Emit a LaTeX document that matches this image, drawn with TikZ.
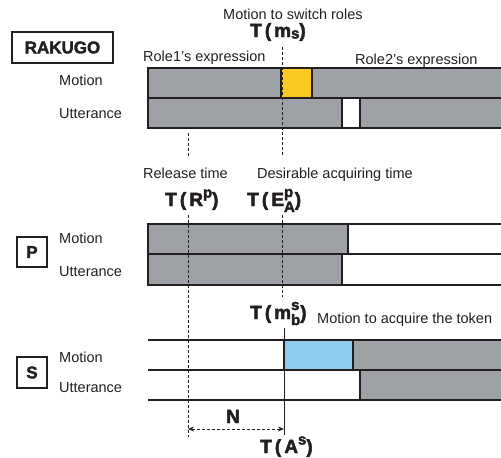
\documentclass[tikz,border=0pt]{standalone}
\usepackage{fontspec}
\setmainfont{Liberation Sans}
\usetikzlibrary{arrows.meta}
\definecolor{bargray}{RGB}{158,162,166}
\definecolor{baryellow}{RGB}{251,200,36}
\definecolor{barblue}{RGB}{143,203,236}
\definecolor{ink}{RGB}{35,31,32}
\newfontfamily\heavyfam[FakeBold=2.5,LetterSpace=16]{Liberation Sans Bold}
\newfontfamily\tagfam[FakeBold=2]{Liberation Sans Bold}
\newcommand{\heavy}{\heavyfam\fontsize{19}{21}\selectfont}
\newcommand{\tsup}[2]{\raisebox{#2}{\fontsize{15}{15}\selectfont #1}}
\newcommand{\tsub}[2]{\raisebox{#2}{\fontsize{15}{15}\selectfont #1}}
\newcommand{\tsupsub}[2]{\rlap{\raisebox{9pt}{\fontsize{15}{15}\selectfont #1}}\raisebox{-6pt}{\fontsize{15}{15}\selectfont #2}}
\begin{document}
\begin{tikzpicture}[x=1pt,y=-1pt,
  lbl/.style={font=\fontsize{14.5}{16}\selectfont, inner sep=0pt, anchor=base west, text=ink},
  tlbl/.style={font=\heavy, inner sep=0pt, anchor=base west, text=ink},
  tagbox/.style={draw=ink, line width=1.4pt, font=\tagfam\fontsize{17}{19}\selectfont, inner sep=0pt, text=ink},
  border/.style={draw=ink, line width=1.8pt},
  guide/.style={draw=ink, line width=0.8pt, dash pattern=on 3pt off 2pt},
  marker/.style={draw=ink, line width=0.8pt},
]
\useasboundingbox (0,0) rectangle (501,458);

% ---------- RAKUGO ----------
\node[tagbox, minimum width=101pt, minimum height=31pt] (rakugo) at (62.5,47.5) {RAKUGO};
\node[lbl] (rmot) at (59,85) {Motion};
\node[lbl] (rutt) at (59,118) {Utterance};
\node[lbl] (switch) at (223,19) {Motion to switch roles};
\node[tlbl] (tms) at (250,37) {T(m\tsub{s}{-1.5pt})};
\node[lbl] (role1) at (143,61) {Role1’s expression};
\node[lbl] (role2) at (355,64) {Role2’s expression};

\fill[bargray] (148,68) rectangle (281,98);
\fill[baryellow] (281,68) rectangle (312,98);
\fill[bargray] (312,68) rectangle (505,98);
\fill[bargray] (148,98) rectangle (342,128);
\fill[bargray] (360,98) rectangle (505,128);
\draw[border] (505,68) -- (148,68) -- (148,128) -- (505,128);
\draw[border] (148,98) -- (505,98);
\draw[border] (281,68) -- (281,98);
\draw[border] (312,68) -- (312,98);
\draw[border] (342,98) -- (342,128);
\draw[border] (360,98) -- (360,128);

% ---------- time labels ----------
\node[lbl] (release) at (143,178) {Release time};
\node[lbl] (desire) at (257,178) {Desirable acquiring time};
\node[tlbl] (trp) at (165,206) {T(\,R\tsup{p}{8.5pt})};
\node[tlbl] (tea) at (247,206) {T(\,E\tsupsub{p}{A})};

% ---------- P ----------
\node[tagbox, minimum width=30pt, minimum height=30pt] (pbox) at (32,252) {P};
\node[lbl] (pmot) at (59,243) {Motion};
\node[lbl] (putt) at (59,276) {Utterance};
\fill[bargray] (148,224) rectangle (348,254);
\fill[bargray] (148,254) rectangle (342,285);
\draw[border] (505,224) -- (148,224) -- (148,285) -- (505,285);
\draw[border] (148,254) -- (505,254);
\draw[border] (348,224) -- (348,254);
\draw[border] (342,254) -- (342,285);

% ---------- S ----------
\node[tagbox, minimum width=30pt, minimum height=31pt] (sbox) at (32,372.5) {S};
\node[lbl] (smot) at (59,362) {Motion};
\node[lbl] (sutt) at (59,392) {Utterance};
\node[tlbl] (tmb) at (250,319) {T(m\tsupsub{s}{b})};
\node[lbl] (acquire) at (317,323) {Motion to acquire the token};
\fill[barblue] (284,340) rectangle (353,370);
\fill[bargray] (353,340) rectangle (505,370);
\fill[bargray] (360,370) rectangle (505,400);
\draw[border] (148,340) -- (505,340);
\draw[border] (148,370) -- (505,370);
\draw[border] (148,400) -- (505,400);
\draw[border] (284,340) -- (284,370);
\draw[border] (353,340) -- (353,370);
\draw[border] (360,370) -- (360,400);

% ---------- guides ----------
\coordinate (g1a) at (282,47);  \coordinate (g1b) at (282,157);
\coordinate (g1c) at (282,215); \coordinate (g1d) at (282,297);
\coordinate (g2a) at (188,133); \coordinate (g2b) at (188,157);
\coordinate (g2c) at (188,215); \coordinate (g2d) at (188,437);
\coordinate (m1) at (284,328);  \coordinate (m2) at (284,435);
\draw[guide] (g1a) -- (g1b);
\draw[guide] (g1c) -- (g1d);
\draw[guide] (g2a) -- (g2b);
\draw[guide] (g2c) -- (g2d);
\draw[marker] (m1) -- (m2);

% ---------- N ----------
\coordinate (nl) at (188,429);
\coordinate (nr) at (284,429);
\draw[guide, {Stealth[length=6pt,width=5pt]}-{Stealth[length=6pt,width=5pt]}] (nl) -- (nr);
\node[tlbl] (nlab) at (226,423) {N};
\node[tlbl] (tas) at (260,453) {T(\,A\tsup{s}{8.5pt})};
\end{tikzpicture}
\end{document}
